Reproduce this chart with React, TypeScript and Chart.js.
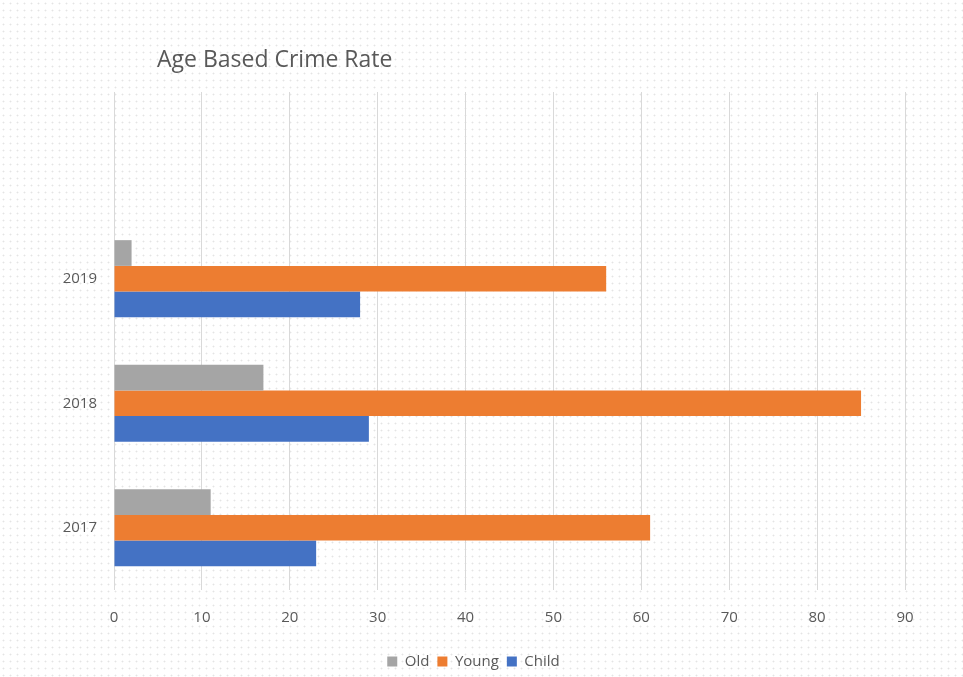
import React, { useEffect, useRef } from "react";
import { Chart, registerables } from "chart.js";

Chart.register(...registerables);

const TITLE = "Age Based Crime Rate";
const categories = ["2017", "2018", "2019"];
const seriesNames = ["Old", "Young", "Child"];
const oldValues = [11, 17, 2];
const youngValues = [61, 85, 56];
const childValues = [23, 29, 28];
const seriesColors = ["#a5a5a5", "#ed7d31", "#4472c4"];
const xTicks = [0, 10, 20, 30, 40, 50, 60, 70, 80, 90];

const FONT = "'Open Sans', 'Noto Sans', sans-serif";
const TEXT = "#595959";

const titlePlugin = {
  id: "customTitle",
  afterDraw(chart: any) {
    const ctx = chart.ctx;
    ctx.save();
    ctx.font = `23px ${FONT}`;
    ctx.fillStyle = TEXT;
    ctx.textBaseline = "middle";
    ctx.textAlign = "left";
    ctx.fillText(TITLE, 157, 60);
    ctx.restore();
  },
};

export default function App() {
  const ref = useRef<HTMLCanvasElement | null>(null);

  useEffect(() => {
    document.body.style.margin = "0";
    const labels = ["", ...[...categories].reverse()];
    const seriesValues = [oldValues, youngValues, childValues];
    const chart = new Chart(ref.current as HTMLCanvasElement, {
      type: "bar",
      data: {
        labels,
        datasets: seriesNames.map((name, i) => ({
          label: name,
          data: [null, ...[...seriesValues[i]].reverse()],
          backgroundColor: seriesColors[i],
          borderWidth: 0,
          categoryPercentage: 0.62,
          barPercentage: 1,
        })),
      },
      options: {
        indexAxis: "y",
        animation: false,
        responsive: false,
        maintainAspectRatio: false,
        layout: { padding: { left: 42, right: 58, top: 92, bottom: -2 } },
        scales: {
          x: {
            min: xTicks[0],
            max: xTicks[xTicks.length - 1],
            afterBuildTicks: (axis: any) => {
              axis.ticks = xTicks.map((v) => ({ value: v }));
            },
            grid: { color: "#d9d9d9", lineWidth: 1, drawTicks: false },
            border: { display: false },
            ticks: {
              color: TEXT,
              font: { family: FONT, size: 15 },
              padding: 19,
            },
            afterFit: (axis: any) => {
              axis.height = 56;
            },
          },
          y: {
            grid: { display: false, drawTicks: false },
            border: { display: false },
            ticks: {
              color: TEXT,
              font: { family: FONT, size: 15 },
              padding: 17,
            },
            afterFit: (axis: any) => {
              axis.width = 72;
            },
          },
        },
        plugins: {
          title: { display: false },
          tooltip: { enabled: false },
          legend: {
            position: "bottom",
            labels: {
              color: TEXT,
              font: { family: FONT, size: 15 },
              boxWidth: 10,
              boxHeight: 10,
              padding: 8,
            },
          },
        },
      },
      plugins: [titlePlugin],
    } as any);
    return () => chart.destroy();
  }, []);

  return (
    <div
      style={{
        position: "absolute",
        left: 0,
        top: 0,
        width: 963,
        height: 677,
        backgroundColor: "#ffffff",
        backgroundImage: "radial-gradient(circle, #e4e4e4 0.7px, rgba(255,255,255,0) 1.2px)",
        backgroundSize: "7px 7px",
      }}
    >
      <canvas ref={ref} width={963} height={677} style={{ display: "block" }} />
    </div>
  );
}
